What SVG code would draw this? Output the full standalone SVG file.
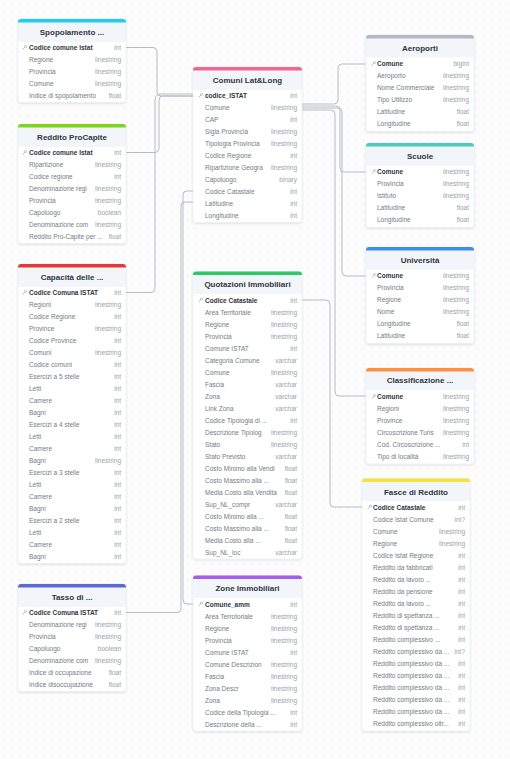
<svg xmlns="http://www.w3.org/2000/svg" width="510" height="759" viewBox="0 0 510 759">
<defs>
<pattern id="dots" width="8" height="8" patternUnits="userSpaceOnUse"><circle cx="4" cy="4" r="0.55" fill="#dcdfe4"/></pattern>
<filter id="sh" x="-10%" y="-10%" width="120%" height="120%"><feDropShadow dx="0" dy="1" stdDeviation="1.2" flood-color="#000" flood-opacity="0.12"/></filter>
<symbol id="key" viewBox="0 0 6 6"><circle cx="4.2" cy="1.8" r="1.3" fill="none" stroke="#a0a6b0" stroke-width="0.8"/><path d="M3.3 2.7 L0.8 5.2 M1.5 4.5 L2.2 5.2" stroke="#a0a6b0" stroke-width="0.8" fill="none"/></symbol>
<style>
.card{fill:#fff;stroke:#e3e6ea;stroke-width:0.5;filter:url(#sh)}
.hdr{fill:#f2f5f9}
.title{font-family:"Liberation Sans",Arial,sans-serif;font-size:8px;font-weight:bold;fill:#2f3640;text-anchor:middle}
.f{font-family:"Liberation Sans",Arial,sans-serif;font-size:6.5px;fill:#737b86}
.k{font-family:"Liberation Sans",Arial,sans-serif;font-size:6.5px;fill:#2f3640;font-weight:bold}
.t{font-family:"Liberation Sans",Arial,sans-serif;font-size:6.5px;fill:#9aa1ab;text-anchor:end}
.c{fill:none;stroke:#b7bcc4;stroke-width:1}
</style>
</defs>
<rect width="510" height="759" fill="#fcfcfd"/>
<rect width="510" height="759" fill="url(#dots)"/>

<g id="connectors">
<path class="c" d="M126 47.5 H153 Q157 47.5 157 51.5 V92 Q157 96 161 96 H193"/>
<path class="c" d="M126 152.5 H155 Q159 152.5 159 148.5 V100 Q159 96 163 96 H193"/>
<path class="c" d="M126 292.5 H151 Q155 292.5 155 288.5 V100 Q155 94 161 94 H193"/>
<path class="c" d="M126 612.5 H177 Q181 612.5 181 608.5 V206 Q181 202 185 202 H193"/>
<path class="c" d="M193 604 H187 Q183 604 183 600 V195 Q183 191 187 191 H193"/>
<path class="c" d="M302 300 H326 Q330 300 330 304 V503 Q330 507 334 507 H362"/>
<path class="c" d="M302 104 H334 Q338 104 338 100 V68 Q338 64 342 64 H366"/>
<path class="c" d="M302 106 H336 Q340 106 340 110 V168 Q340 172 344 172 H366"/>
<path class="c" d="M302 108 H338 Q342 108 342 112 V272 Q342 276 346 276 H366"/>
<path class="c" d="M302 110 H331 Q335 110 335 114 V392 Q335 396 339 396 H366"/>
</g>

<g id="spopolamento">
<rect class="card" x="18" y="19" width="108" height="83.5" rx="3"/>
<path class="hdr" d="M18 22 H126 V42 H18 Z"/>
<path d="M21 19 H123 Q126 19 126 22 H18 Q18 19 21 19 Z" fill="#1fd0ee"/>
<rect x="18" y="21" width="108" height="1.5" fill="#1fd0ee"/>
<text class="title" x="72" y="35">Spopolamento ...</text>
<use href="#key" x="22" y="45" width="5" height="5"/>
<text class="k" x="29" y="50">Codice comune Istat</text><text class="t" x="121" y="50">int</text>
<text class="f" x="29" y="62">Regione</text><text class="t" x="121" y="62">linestring</text>
<text class="f" x="29" y="74">Provincia</text><text class="t" x="121" y="74">linestring</text>
<text class="f" x="29" y="86">Comune</text><text class="t" x="121" y="86">linestring</text>
<text class="f" x="29" y="98">Indice di spopolamento</text><text class="t" x="121" y="98">float</text>
</g>

<g id="reddito-procapite">
<rect class="card" x="18" y="124" width="108" height="119.5" rx="3"/>
<path class="hdr" d="M18 127 H126 V147 H18 Z"/>
<path d="M21 124 H123 Q126 124 126 127 V127.5 H18 V127 Q18 124 21 124 Z" fill="#7fd321"/>
<text class="title" x="72" y="140">Reddito ProCapite</text>
<use href="#key" x="22" y="150" width="5" height="5"/>
<text class="k" x="29" y="155">Codice comune Istat</text><text class="t" x="121" y="155">int</text>
<text class="f" x="29" y="167">Ripartizione</text><text class="t" x="121" y="167">linestring</text>
<text class="f" x="29" y="179">Codice regione</text><text class="t" x="121" y="179">int</text>
<text class="f" x="29" y="191">Denominazione regi</text><text class="t" x="121" y="191">linestring</text>
<text class="f" x="29" y="203">Provincia</text><text class="t" x="121" y="203">linestring</text>
<text class="f" x="29" y="215">Capoluogo</text><text class="t" x="121" y="215">boolean</text>
<text class="f" x="29" y="227">Denominazione com</text><text class="t" x="121" y="227">linestring</text>
<text class="f" x="29" y="239">Reddito Pro-Capite per ...</text><text class="t" x="121" y="239">float</text>
</g>

<g id="capacita">
<rect class="card" x="18" y="264" width="108" height="299.5" rx="3"/>
<path class="hdr" d="M18 267 H126 V287 H18 Z"/>
<path d="M21 264 H123 Q126 264 126 267 V267.5 H18 V267 Q18 264 21 264 Z" fill="#e53935"/>
<text class="title" x="72" y="280">Capacità delle ...</text>
<use href="#key" x="22" y="290" width="5" height="5"/>
<text class="k" x="29" y="295">Codice Comuna ISTAT</text><text class="t" x="121" y="295">int</text>
<text class="f" x="29" y="307">Regioni</text><text class="t" x="121" y="307">linestring</text>
<text class="f" x="29" y="319">Codice Regione</text><text class="t" x="121" y="319">int</text>
<text class="f" x="29" y="331">Province</text><text class="t" x="121" y="331">linestring</text>
<text class="f" x="29" y="343">Codice Province</text><text class="t" x="121" y="343">int</text>
<text class="f" x="29" y="355">Comuni</text><text class="t" x="121" y="355">linestring</text>
<text class="f" x="29" y="367">Codice comuni</text><text class="t" x="121" y="367">int</text>
<text class="f" x="29" y="379">Esercizi a 5 stelle</text><text class="t" x="121" y="379">int</text>
<text class="f" x="29" y="391">Letti</text><text class="t" x="121" y="391">int</text>
<text class="f" x="29" y="403">Camere</text><text class="t" x="121" y="403">int</text>
<text class="f" x="29" y="415">Bagni</text><text class="t" x="121" y="415">int</text>
<text class="f" x="29" y="427">Esercizi a 4 stelle</text><text class="t" x="121" y="427">int</text>
<text class="f" x="29" y="439">Letti</text><text class="t" x="121" y="439">int</text>
<text class="f" x="29" y="451">Camere</text><text class="t" x="121" y="451">int</text>
<text class="f" x="29" y="463">Bagni</text><text class="t" x="121" y="463">linestring</text>
<text class="f" x="29" y="475">Esercizi a 3 stelle</text><text class="t" x="121" y="475">int</text>
<text class="f" x="29" y="487">Letti</text><text class="t" x="121" y="487">int</text>
<text class="f" x="29" y="499">Camere</text><text class="t" x="121" y="499">int</text>
<text class="f" x="29" y="511">Bagni</text><text class="t" x="121" y="511">int</text>
<text class="f" x="29" y="523">Esercizi a 2 stelle</text><text class="t" x="121" y="523">int</text>
<text class="f" x="29" y="535">Letti</text><text class="t" x="121" y="535">int</text>
<text class="f" x="29" y="547">Camere</text><text class="t" x="121" y="547">int</text>
<text class="f" x="29" y="559">Bagni</text><text class="t" x="121" y="559">int</text>
</g>

<g id="tasso">
<rect class="card" x="18" y="584" width="108" height="107.5" rx="3"/>
<path class="hdr" d="M18 587 H126 V607 H18 Z"/>
<path d="M21 584 H123 Q126 584 126 587 V587.5 H18 V587 Q18 584 21 584 Z" fill="#5f66d6"/>
<text class="title" x="72" y="600">Tasso di ...</text>
<use href="#key" x="22" y="610" width="5" height="5"/>
<text class="k" x="29" y="615">Codice Comuna ISTAT</text><text class="t" x="121" y="615">int</text>
<text class="f" x="29" y="627">Denominazione regi</text><text class="t" x="121" y="627">linestring</text>
<text class="f" x="29" y="639">Provincia</text><text class="t" x="121" y="639">linestring</text>
<text class="f" x="29" y="651">Capoluogo</text><text class="t" x="121" y="651">boolean</text>
<text class="f" x="29" y="663">Denominazione com</text><text class="t" x="121" y="663">linestring</text>
<text class="f" x="29" y="675">Indice di occupazione</text><text class="t" x="121" y="675">float</text>
<text class="f" x="29" y="687">Indice disoccupazione</text><text class="t" x="121" y="687">float</text>
</g>

<g id="comuni-latlong">
<rect class="card" x="193" y="67" width="109" height="155.5" rx="3"/>
<path class="hdr" d="M193 70 H302 V90 H193 Z"/>
<path d="M196 67 H299 Q302 67 302 70 V70.5 H193 V70 Q193 67 196 67 Z" fill="#f0668e"/>
<text class="title" x="247.5" y="83">Comuni Lat&amp;Long</text>
<use href="#key" x="198" y="93" width="5" height="5"/>
<text class="k" x="205" y="98">codice_ISTAT</text><text class="t" x="297" y="98">int</text>
<text class="f" x="205" y="110">Comune</text><text class="t" x="297" y="110">linestring</text>
<text class="f" x="205" y="122">CAP</text><text class="t" x="297" y="122">int</text>
<text class="f" x="205" y="134">Sigla Provincia</text><text class="t" x="297" y="134">linestring</text>
<text class="f" x="205" y="146">Tipologia Provincia</text><text class="t" x="297" y="146">linestring</text>
<text class="f" x="205" y="158">Codice Regione</text><text class="t" x="297" y="158">int</text>
<text class="f" x="205" y="170">Ripartizione Geogra</text><text class="t" x="297" y="170">linestring</text>
<text class="f" x="205" y="182">Capoluogo</text><text class="t" x="297" y="182">binary</text>
<text class="f" x="205" y="194">Codice Catastale</text><text class="t" x="297" y="194">int</text>
<text class="f" x="205" y="206">Latitudine</text><text class="t" x="297" y="206">int</text>
<text class="f" x="205" y="218">Longitudine</text><text class="t" x="297" y="218">int</text>
</g>

<g id="quotazioni">
<rect class="card" x="193" y="271.5" width="109" height="287.5" rx="3"/>
<path class="hdr" d="M193 274.5 H302 V294 H193 Z"/>
<path d="M196 271.5 H299 Q302 271.5 302 274.5 V275 H193 V274.5 Q193 271.5 196 271.5 Z" fill="#2ec866"/>
<text class="title" x="247.5" y="287">Quotazioni Immobiliari</text>
<use href="#key" x="198" y="297.5" width="5" height="5"/>
<text class="k" x="205" y="302.5">Codice Catastale</text><text class="t" x="297" y="302.5">int</text>
<text class="f" x="205" y="314.5">Area Territoriale</text><text class="t" x="297" y="314.5">linestring</text>
<text class="f" x="205" y="326.5">Regione</text><text class="t" x="297" y="326.5">linestring</text>
<text class="f" x="205" y="338.5">Provincia</text><text class="t" x="297" y="338.5">linestring</text>
<text class="f" x="205" y="350.5">Comune ISTAT</text><text class="t" x="297" y="350.5">int</text>
<text class="f" x="205" y="362.5">Categoria Comune</text><text class="t" x="297" y="362.5">varchar</text>
<text class="f" x="205" y="374.5">Comune</text><text class="t" x="297" y="374.5">linestring</text>
<text class="f" x="205" y="386.5">Fascia</text><text class="t" x="297" y="386.5">varchar</text>
<text class="f" x="205" y="398.5">Zona</text><text class="t" x="297" y="398.5">varchar</text>
<text class="f" x="205" y="410.5">Link Zona</text><text class="t" x="297" y="410.5">varchar</text>
<text class="f" x="205" y="422.5">Codice Tipologia di ...</text><text class="t" x="297" y="422.5">int</text>
<text class="f" x="205" y="434.5">Descrizione Tipolog</text><text class="t" x="297" y="434.5">linestring</text>
<text class="f" x="205" y="446.5">Stato</text><text class="t" x="297" y="446.5">linestring</text>
<text class="f" x="205" y="458.5">Stato Previsto</text><text class="t" x="297" y="458.5">varchar</text>
<text class="f" x="205" y="470.5">Costo Minimo alla Vendi</text><text class="t" x="297" y="470.5">float</text>
<text class="f" x="205" y="482.5">Costo Massimo alla ...</text><text class="t" x="297" y="482.5">float</text>
<text class="f" x="205" y="494.5">Media Costo alla Vendita</text><text class="t" x="297" y="494.5">float</text>
<text class="f" x="205" y="506.5">Sup_NL_compr</text><text class="t" x="297" y="506.5">varchar</text>
<text class="f" x="205" y="518.5">Costo Minimo alla ...</text><text class="t" x="297" y="518.5">float</text>
<text class="f" x="205" y="530.5">Costo Massimo alla ...</text><text class="t" x="297" y="530.5">float</text>
<text class="f" x="205" y="542.5">Media Costo alla ...</text><text class="t" x="297" y="542.5">float</text>
<text class="f" x="205" y="554.5">Sup_NL_loc</text><text class="t" x="297" y="554.5">varchar</text>
</g>

<g id="zone-immobiliari">
<rect class="card" x="193" y="575.5" width="109" height="155.5" rx="3"/>
<path class="hdr" d="M193 578.5 H302 V598 H193 Z"/>
<path d="M196 575.5 H299 Q302 575.5 302 578.5 V579 H193 V578.5 Q193 575.5 196 575.5 Z" fill="#a45cf0"/>
<text class="title" x="247.5" y="591">Zone Immobiliari</text>
<use href="#key" x="198" y="601.5" width="5" height="5"/>
<text class="k" x="205" y="606.5">Comune_amm</text><text class="t" x="297" y="606.5">int</text>
<text class="f" x="205" y="618.5">Area Terrotoriale</text><text class="t" x="297" y="618.5">linestring</text>
<text class="f" x="205" y="630.5">Regione</text><text class="t" x="297" y="630.5">linestring</text>
<text class="f" x="205" y="642.5">Provincia</text><text class="t" x="297" y="642.5">linestring</text>
<text class="f" x="205" y="654.5">Comune ISTAT</text><text class="t" x="297" y="654.5">int</text>
<text class="f" x="205" y="666.5">Comune Descrizion</text><text class="t" x="297" y="666.5">linestring</text>
<text class="f" x="205" y="678.5">Fascia</text><text class="t" x="297" y="678.5">linestring</text>
<text class="f" x="205" y="690.5">Zona Descr</text><text class="t" x="297" y="690.5">linestring</text>
<text class="f" x="205" y="702.5">Zona</text><text class="t" x="297" y="702.5">linestring</text>
<text class="f" x="205" y="714.5">Codice della Tipologia ...</text><text class="t" x="297" y="714.5">int</text>
<text class="f" x="205" y="726.5">Descrizione della ...</text><text class="t" x="297" y="726.5">int</text>
</g>

<g id="aeroporti">
<rect class="card" x="366" y="35" width="108" height="96.5" rx="3"/>
<path class="hdr" d="M366 38 H474 V57.5 H366 Z"/>
<path d="M369 35 H471 Q474 35 474 38 V38.5 H366 V38 Q366 35 369 35 Z" fill="#b2b9c4"/>
<text class="title" x="420" y="51">Aeroporti</text>
<use href="#key" x="371" y="61" width="5" height="5"/>
<text class="k" x="377" y="66">Comune</text><text class="t" x="469" y="66">bigint</text>
<text class="f" x="377" y="78">Aeroporto</text><text class="t" x="469" y="78">linestring</text>
<text class="f" x="377" y="90">Nome Commerciale</text><text class="t" x="469" y="90">linestring</text>
<text class="f" x="377" y="102">Tipo Utilizzo</text><text class="t" x="469" y="102">linestring</text>
<text class="f" x="377" y="114">Latitudine</text><text class="t" x="469" y="114">float</text>
<text class="f" x="377" y="126">Longitudine</text><text class="t" x="469" y="126">float</text>
</g>

<g id="scuole">
<rect class="card" x="366" y="143" width="108" height="84.5" rx="3"/>
<path class="hdr" d="M366 146 H474 V165.5 H366 Z"/>
<path d="M369 143 H471 Q474 143 474 146 V146.5 H366 V146 Q366 143 369 143 Z" fill="#4ccdbb"/>
<text class="title" x="420" y="159">Scuole</text>
<use href="#key" x="371" y="169" width="5" height="5"/>
<text class="k" x="377" y="174">Comune</text><text class="t" x="469" y="174">linestring</text>
<text class="f" x="377" y="186">Provincia</text><text class="t" x="469" y="186">linestring</text>
<text class="f" x="377" y="198">Istituto</text><text class="t" x="469" y="198">linestring</text>
<text class="f" x="377" y="210">Latitudine</text><text class="t" x="469" y="210">float</text>
<text class="f" x="377" y="222">Longitudine</text><text class="t" x="469" y="222">float</text>
</g>

<g id="universita">
<rect class="card" x="366" y="247" width="108" height="96.5" rx="3"/>
<path class="hdr" d="M366 250 H474 V269.5 H366 Z"/>
<path d="M369 247 H471 Q474 247 474 250 V250.5 H366 V250 Q366 247 369 247 Z" fill="#3a8ee6"/>
<text class="title" x="420" y="263">Università</text>
<use href="#key" x="371" y="273" width="5" height="5"/>
<text class="k" x="377" y="278">Comune</text><text class="t" x="469" y="278">linestring</text>
<text class="f" x="377" y="290">Provincia</text><text class="t" x="469" y="290">linestring</text>
<text class="f" x="377" y="302">Regione</text><text class="t" x="469" y="302">linestring</text>
<text class="f" x="377" y="314">Nome</text><text class="t" x="469" y="314">linestring</text>
<text class="f" x="377" y="326">Longitudine</text><text class="t" x="469" y="326">float</text>
<text class="f" x="377" y="338">Latitudine</text><text class="t" x="469" y="338">float</text>
</g>

<g id="classificazione">
<rect class="card" x="366" y="368" width="108" height="96" rx="3"/>
<path class="hdr" d="M366 371 H474 V390 H366 Z"/>
<path d="M369 368 H471 Q474 368 474 371 V371.5 H366 V371 Q366 368 369 368 Z" fill="#ff9040"/>
<text class="title" x="420" y="383">Classificazione ...</text>
<use href="#key" x="371" y="394" width="5" height="5"/>
<text class="k" x="377" y="399">Comune</text><text class="t" x="469" y="399">linestring</text>
<text class="f" x="377" y="411">Regioni</text><text class="t" x="469" y="411">linestring</text>
<text class="f" x="377" y="423">Province</text><text class="t" x="469" y="423">linestring</text>
<text class="f" x="377" y="435">Circoscrizione Turis</text><text class="t" x="469" y="435">linestring</text>
<text class="f" x="377" y="447">Cod. Circoscrizione ...</text><text class="t" x="469" y="447">int</text>
<text class="f" x="377" y="459">Tipo di località</text><text class="t" x="469" y="459">linestring</text>
</g>

<g id="fasce-reddito">
<rect class="card" x="362" y="478.5" width="108" height="252.5" rx="3"/>
<path class="hdr" d="M362 481.5 H470 V501 H362 Z"/>
<path d="M365 478.5 H467 Q470 478.5 470 481.5 V482 H362 V481.5 Q362 478.5 365 478.5 Z" fill="#f7e23a"/>
<text class="title" x="416" y="494.5">Fasce di Reddito</text>
<use href="#key" x="367" y="504.5" width="5" height="5"/>
<text class="k" x="373" y="509.5">Codice Catastale</text><text class="t" x="465" y="509.5">int</text>
<text class="f" x="373" y="521.5">Codice Istat Comune</text><text class="t" x="465" y="521.5">int?</text>
<text class="f" x="373" y="533.5">Comune</text><text class="t" x="465" y="533.5">linestring</text>
<text class="f" x="373" y="545.5">Regione</text><text class="t" x="465" y="545.5">linestring</text>
<text class="f" x="373" y="557.5">Codice Istat Regione</text><text class="t" x="465" y="557.5">int</text>
<text class="f" x="373" y="569.5">Reddito da fabbricati</text><text class="t" x="465" y="569.5">int</text>
<text class="f" x="373" y="581.5">Reddito da lavoro ...</text><text class="t" x="465" y="581.5">int</text>
<text class="f" x="373" y="593.5">Reddito da pensione</text><text class="t" x="465" y="593.5">int</text>
<text class="f" x="373" y="605.5">Reddito da lavoro ...</text><text class="t" x="465" y="605.5">int</text>
<text class="f" x="373" y="617.5">Reddito di spettanza ...</text><text class="t" x="465" y="617.5">int</text>
<text class="f" x="373" y="629.5">Reddito di spettanza ...</text><text class="t" x="465" y="629.5">int</text>
<text class="f" x="373" y="641.5">Reddito complessivo ...</text><text class="t" x="465" y="641.5">int</text>
<text class="f" x="373" y="653.5">Reddito complessivo da ...</text><text class="t" x="465" y="653.5">int?</text>
<text class="f" x="373" y="665.5">Reddito complessivo da ...</text><text class="t" x="465" y="665.5">int</text>
<text class="f" x="373" y="677.5">Reddito complessivo da ...</text><text class="t" x="465" y="677.5">int</text>
<text class="f" x="373" y="689.5">Reddito complessivo da ...</text><text class="t" x="465" y="689.5">int</text>
<text class="f" x="373" y="701.5">Reddito complessivo da ...</text><text class="t" x="465" y="701.5">int</text>
<text class="f" x="373" y="713.5">Reddito complessivo da ...</text><text class="t" x="465" y="713.5">int</text>
<text class="f" x="373" y="725.5">Reddito complessivo oltr...</text><text class="t" x="465" y="725.5">int</text>
</g>
</svg>
